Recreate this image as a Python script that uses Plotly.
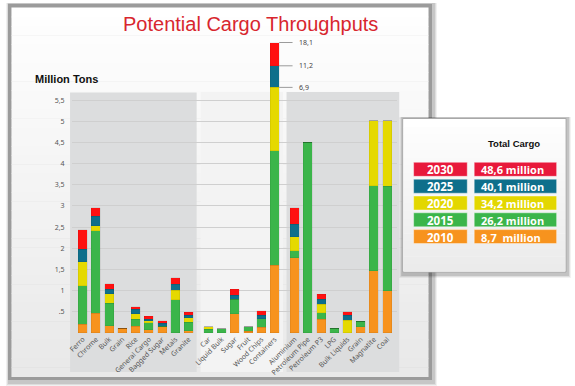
import plotly.graph_objects as go

# ---------------- data ----------------
categories = ["Ferro", "Chrome", "Bulk", "Grain", "Rice", "General Cargo", "Bagged Sugar", "Metals", "Granite",
              "Car", "Liquid Bulk", "Sugar", "Fruit", "Wood Chips", "Containers",
              "Aluminium", "Petroleum Pipe", "Petroleum P3", "LPG", "Bulk Liquids", "Grain", "Magnatite", "Coal"]
group_sizes = [9, 6, 8]

# segment heights per period (million tons, as drawn; containers drawn on a broken scale)
v2010 = [0.21, 0.46, 0.17, 0.11, 0.16, 0.08, 0.14, 0.00, 0.05,
         0.00, 0.00, 0.45, 0.04, 0.13, 1.60,
         1.78, 0.00, 0.32, 0.00, 0.00, 0.15, 1.47, 1.00]
v2015 = [0.90, 1.95, 0.53, 0.00, 0.16, 0.16, 0.02, 0.78, 0.20,
         0.09, 0.10, 0.34, 0.11, 0.21, 2.70,
         0.16, 4.50, 0.16, 0.11, 0.00, 0.13, 2.01, 2.47]
v2020 = [0.57, 0.12, 0.22, 0.00, 0.13, 0.05, 0.00, 0.23, 0.11,
         0.06, 0.00, 0.00, 0.00, 0.00, 1.50,
         0.33, 0.00, 0.20, 0.00, 0.30, 0.00, 1.53, 1.54]
v2025 = [0.30, 0.23, 0.11, 0.00, 0.11, 0.03, 0.07, 0.14, 0.06,
         0.00, 0.00, 0.10, 0.00, 0.08, 0.51,
         0.30, 0.00, 0.11, 0.00, 0.12, 0.00, 0.00, 0.00]
v2030 = [0.46, 0.20, 0.13, 0.00, 0.06, 0.07, 0.06, 0.15, 0.07,
         0.00, 0.00, 0.14, 0.00, 0.10, 0.55,
         0.39, 0.00, 0.12, 0.00, 0.08, 0.00, 0.00, 0.00]

container_labels = ["6,9", "11,2", "18,1"]   # real totals shown on the broken containers bar

years = ["2030", "2025", "2020", "2015", "2010"]
totals = ["48,6 million", "40,1 million", "34,2 million", "26,2 million", "8,7\u00a0\u00a0million"]

y_ticks = [0.5, 1, 1.5, 2, 2.5, 3, 3.5, 4, 4.5, 5, 5.5]
y_tick_text = [".5", "1", "1,5", "2", "2,5", "3", "3,5", "4", "4,5", "5", "5,5"]

# ---------------- styles ----------------
W, H = 575, 386
bar_colors = {"2010": "#F7931E", "2015": "#3BB54A", "2020": "#E5D900", "2025": "#0E6F8B", "2030": "#FF1010"}
legend_colors = {"2030": "#E8193B", "2025": "#0E6F8B", "2020": "#E3D700", "2015": "#3BB54A", "2010": "#F7931E"}

def px(x):
    return x / W

def py(y):
    return 1 - y / H

# x positions with gaps between groups
xpos = []
start = 0.0
for gs in group_sizes:
    xpos += [start + i for i in range(gs)]
    start += gs + 0.5

fig = go.Figure()
series = [("2010", v2010), ("2015", v2015), ("2020", v2020), ("2025", v2025), ("2030", v2030)]
for name, vals in series:
    fig.add_trace(go.Bar(x=xpos, y=vals, name=name, width=0.68,
                         marker=dict(color=bar_colors[name], line=dict(width=0.4, color="rgba(0,0,0,0.15)")),
                         showlegend=False, hoverinfo="skip"))

shapes = []
# outer frame shadow
for i, a in enumerate([0.06, 0.08, 0.10]):
    d = 3 - i
    shapes.append(dict(type="rect", xref="paper", yref="paper", layer="below",
                       x0=px(3 - d + 2), x1=px(433 + d), y0=py(383 + d), y1=py(3),
                       line=dict(width=0), fillcolor=f"rgba(0,0,0,{a})"))
# frame border
shapes.append(dict(type="rect", xref="paper", yref="paper", layer="below",
                   x0=px(4), x1=px(431), y0=py(380), y1=py(4),
                   line=dict(width=0), fillcolor="#9b9b9b"))
# gradient interior
n = 40
top, bot = 7.5, 376.5
for i in range(n):
    y0 = top + (bot - top) * i / n
    y1 = top + (bot - top) * (i + 1) / n
    t = i / (n - 1)
    c = int(255 - t * 22)
    shapes.append(dict(type="rect", xref="paper", yref="paper", layer="below",
                       x0=px(7.5), x1=px(427.5), y0=py(y1 + 0.5), y1=py(y0),
                       line=dict(width=0), fillcolor=f"rgb({c},{c},{c})"))
# panels
shapes.append(dict(type="rect", xref="paper", yref="paper", layer="below",
                   x0=px(66.5), x1=px(194), y0=py(372), y1=py(92.5),
                   line=dict(width=0), fillcolor="#DCDDDE"))
shapes.append(dict(type="rect", xref="paper", yref="paper", layer="below",
                   x0=px(198), x1=px(281), y0=py(372), y1=py(92),
                   line=dict(width=0), fillcolor="#F3F3F3"))
shapes.append(dict(type="rect", xref="paper", yref="paper", layer="below",
                   x0=px(284.5), x1=px(398), y0=py(372), y1=py(92),
                   line=dict(width=0), fillcolor="#DCDDDE"))

# container break labels
ci = categories.index("Containers")
cx = xpos[ci]
cum = 0
cums = []
for name, vals in series:
    cum += vals[ci]
    cums.append(cum)
label_heights = cums[2:]
annotations = []
for hgt, lab in zip(label_heights, container_labels):
    shapes.append(dict(type="line", xref="x", yref="y", x0=cx + 0.34, x1=cx + 1.35, y0=hgt, y1=hgt,
                       line=dict(color="#9a9a9a", width=1)))
    annotations.append(dict(x=cx + 1.7, y=hgt, xref="x", yref="y", text=lab, showarrow=False,
                            xanchor="left", yanchor="middle",
                            font=dict(size=7, color="#444444", family="Noto Sans")))

# legend box
for i, a in enumerate([0.05, 0.08, 0.12]):
    d = 3 - i
    shapes.append(dict(type="rect", xref="paper", yref="paper",
                       x0=px(400 - d + 1), x1=px(568 + d), y0=py(275 + d), y1=py(117),
                       line=dict(width=0), fillcolor=f"rgba(0,0,0,{a})"))
shapes.append(dict(type="rect", xref="paper", yref="paper",
                   x0=px(401.5), x1=px(566), y0=py(272), y1=py(118.5),
                   line=dict(width=1, color="#a8a8a8"), fillcolor="#ffffff"))
m = 20
for i in range(m):
    y0 = 119.5 + (271.5 - 119.5) * i / m
    y1 = 119.5 + (271.5 - 119.5) * (i + 1) / m
    t = i / (m - 1)
    c = int(255 - t * 20)
    shapes.append(dict(type="rect", xref="paper", yref="paper",
                       x0=px(402.5), x1=px(565), y0=py(y1 + 0.3), y1=py(y0),
                       line=dict(width=0), fillcolor=f"rgb({c},{c},{c})"))
annotations.append(dict(x=px(514), y=py(143.5), xref="paper", yref="paper", text="<b>Total Cargo</b>",
                        showarrow=False, xanchor="center", yanchor="middle",
                        font=dict(size=9.5, color="#111111", family="Liberation Sans")))
row_y = [169.3, 186.2, 203.0, 219.8, 236.6]
for yy, yr, tot in zip(row_y, years, totals):
    col = legend_colors[yr]
    shapes.append(dict(type="rect", xref="paper", yref="paper",
                       x0=px(412.5), x1=px(466.5), y0=py(yy + 7), y1=py(yy - 7),
                       line=dict(width=0.6, color="rgba(255,255,255,0.7)"), fillcolor=col))
    shapes.append(dict(type="rect", xref="paper", yref="paper",
                       x0=px(473.5), x1=px(556.5), y0=py(yy + 7), y1=py(yy - 7),
                       line=dict(width=0.6, color="rgba(255,255,255,0.7)"), fillcolor=col))
    annotations.append(dict(x=px(439.5), y=py(yy + 0.5), xref="paper", yref="paper", text=f"<b>{yr}</b>",
                            showarrow=False, xanchor="center", yanchor="middle",
                            font=dict(size=11.5, color="white", family="Open Sans")))
    annotations.append(dict(x=px(478.5), y=py(yy + 0.5), xref="paper", yref="paper", text=f"<b>{tot}</b>",
                            showarrow=False, xanchor="left", yanchor="middle",
                            font=dict(size=11, color="white", family="Open Sans")))

# title & axis title
annotations.append(dict(x=px(248), y=py(24), xref="paper", yref="paper", text="Potential Cargo Throughputs",
                        showarrow=False, xanchor="center", yanchor="middle",
                        font=dict(size=20, color="#D8262E", family="Liberation Sans")))
annotations.append(dict(x=px(29), y=py(79), xref="paper", yref="paper", text="<b>Million Tons</b>",
                        showarrow=False, xanchor="left", yanchor="middle",
                        font=dict(size=11, color="#111111", family="Liberation Sans")))

x_lo = (68 - 79.3) / 13.33
x_hi = (396 - 79.3) / 13.33
y_hi = (332.9 - 30) / 42.33

fig.update_layout(
    width=W, height=H, barmode="stack",
    margin=dict(l=0, r=0, t=0, b=0),
    paper_bgcolor="white", plot_bgcolor="rgba(0,0,0,0)",
    shapes=shapes, annotations=annotations,
    xaxis=dict(domain=[px(68), px(396)], range=[x_lo, x_hi], tickmode="array", tickvals=xpos,
               ticktext=categories, tickangle=-45, showgrid=False, zeroline=False, showline=False,
               ticks="", tickfont=dict(size=7, color="#555555", family="Noto Sans")),
    yaxis=dict(domain=[py(332.9), py(30)], range=[0, y_hi], tickmode="array", tickvals=y_ticks,
               ticktext=y_tick_text, showgrid=True, gridcolor="#cfcfcf", gridwidth=1, zeroline=False,
               showline=False, ticks="", ticklabelstandoff=6,
               tickfont=dict(size=7, color="#555555", family="Noto Sans")),
    bargap=0.3,
)

fig.write_html("out.html", config={"displayModeBar": False},
               post_script="document.body.style.margin='0';document.body.style.overflow='hidden';")
